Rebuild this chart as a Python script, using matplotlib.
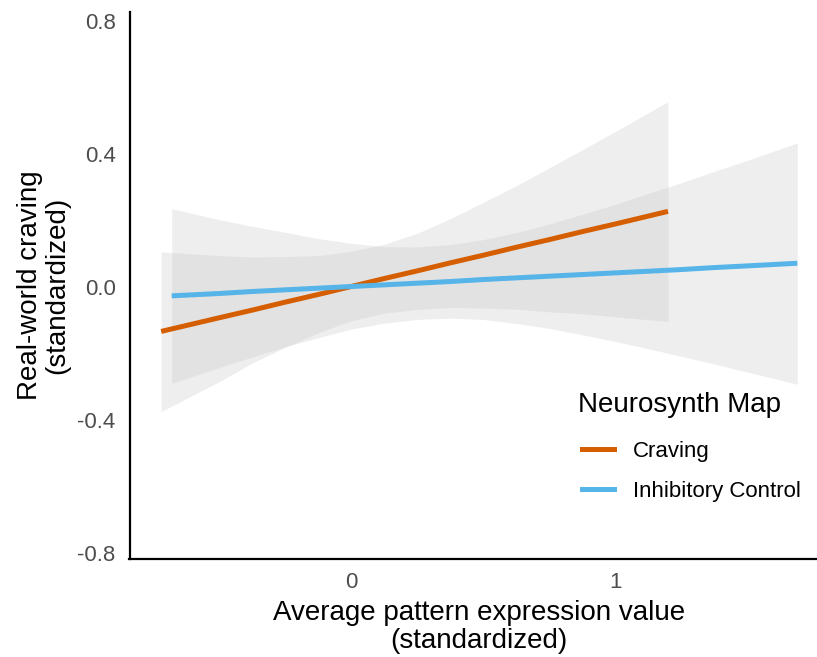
import matplotlib
matplotlib.use("Agg")
import matplotlib.pyplot as plt
from matplotlib.lines import Line2D

plt.rcParams['font.family'] = ['Liberation Sans', 'DejaVu Sans']

# ---- data ----
series_names = ["Craving", "Inhibitory Control"]
series_colors = ["#D55E00", "#56B4E9"]
legend_title = "Neurosynth Map"

craving_x = [-0.72, -0.5, -0.375, -0.25, -0.125, 0.0, 0.125, 0.25, 0.375, 0.5,
             0.625, 0.75, 0.875, 1.0, 1.2]
craving_fit = [-0.135, -0.094, -0.071, -0.047, -0.024, 0.0, 0.024, 0.047, 0.071, 0.094,
               0.118, 0.141, 0.165, 0.188, 0.226]
craving_upper = [0.104, 0.093, 0.089, 0.090, 0.093, 0.106, 0.127, 0.160, 0.204, 0.253,
                 0.303, 0.357, 0.411, 0.466, 0.556]
craving_lower = [-0.376, -0.286, -0.230, -0.183, -0.139, -0.103, -0.080, -0.069, -0.063, -0.065,
                 -0.068, -0.076, -0.082, -0.091, -0.105]

inhib_x = [-0.68, -0.5, -0.375, -0.25, -0.125, 0.0, 0.125, 0.25, 0.375, 0.5,
           0.625, 0.75, 0.875, 1.0, 1.125, 1.25, 1.375, 1.5, 1.69]
inhib_fit = [-0.028, -0.021, -0.015, -0.010, -0.005, 0.0, 0.005, 0.010, 0.015, 0.021,
             0.026, 0.031, 0.036, 0.041, 0.046, 0.051, 0.057, 0.062, 0.070]
inhib_upper = [0.234, 0.201, 0.181, 0.163, 0.144, 0.130, 0.120, 0.119, 0.126, 0.141,
               0.162, 0.188, 0.217, 0.247, 0.280, 0.312, 0.346, 0.379, 0.432]
inhib_lower = [-0.291, -0.244, -0.212, -0.181, -0.154, -0.128, -0.110, -0.099, -0.095, -0.099,
               -0.111, -0.126, -0.145, -0.165, -0.187, -0.210, -0.233, -0.257, -0.294]

x_ticks = [0, 1]
x_ticklabels = ["0", "1"]
y_ticks = [-0.8, -0.4, 0.0, 0.4, 0.8]
y_ticklabels = ["-0.8", "-0.4", "0.0", "0.4", "0.8"]

# ---- figure ----
W, H = 817, 657
fig = plt.figure(figsize=(W / 100, H / 100), dpi=100)
ax_l, ax_r, ax_t, ax_b = 129.5, 829, 12, 559
ax = fig.add_axes([ax_l / W, 1 - ax_b / H, (ax_r - ax_l) / W, (ax_b - ax_t) / H])

band_color = "#C8C8C8"
band_alpha = 0.3
lw = 3.6

groups = [
    (craving_x, craving_fit, craving_lower, craving_upper, series_colors[0]),
    (inhib_x, inhib_fit, inhib_lower, inhib_upper, series_colors[1]),
]
for xs, fit, lo, hi, col in groups:
    ax.fill_between(xs, lo, hi, color=band_color, alpha=band_alpha, linewidth=0)
    ax.plot(xs, fit, color=col, linewidth=lw, solid_capstyle='butt')

ax.set_xlim(-0.84, 1.81)
ax.set_ylim(-0.8195, 0.8256)

ax.set_xticks(x_ticks)
ax.set_xticklabels(x_ticklabels)
ax.set_yticks(y_ticks)
ax.set_yticklabels(y_ticklabels)
ax.tick_params(axis='both', length=0, labelsize=16, labelcolor="#4D4D4D")
ax.tick_params(axis='x', pad=9)
ax.tick_params(axis='y', pad=10)

for s in ["top", "right"]:
    ax.spines[s].set_visible(False)
for s in ["left", "bottom"]:
    ax.spines[s].set_linewidth(1.6)
    ax.spines[s].set_color("black")

ax.set_xlabel("Average pattern expression value\n(standardized)", fontsize=20,
              linespacing=1.1)
ax.xaxis.set_label_coords(0.5, 1 - (600 - ax_t) / (ax_b - ax_t))
ax.set_ylabel("Real-world craving\n(standardized)", fontsize=20, linespacing=1.05)
ax.yaxis.set_label_coords((70 - ax_l) / (ax_r - ax_l), 0.5)

handles = [Line2D([], [], color=c, linewidth=lw) for c in series_colors]
leg = ax.legend(handles, series_names,
                loc='upper left', bbox_to_anchor=(582 / W, 1 - 441 / H),
                bbox_transform=fig.transFigure, frameon=False,
                fontsize=16, handlelength=1.45, handletextpad=0.85, labelspacing=0.86,
                borderpad=0, borderaxespad=0)
fig.text(578 / W, 1 - 405 / H, legend_title, fontsize=20, ha='left', va='center')

fig.savefig("out.png", dpi=100, facecolor="white")
